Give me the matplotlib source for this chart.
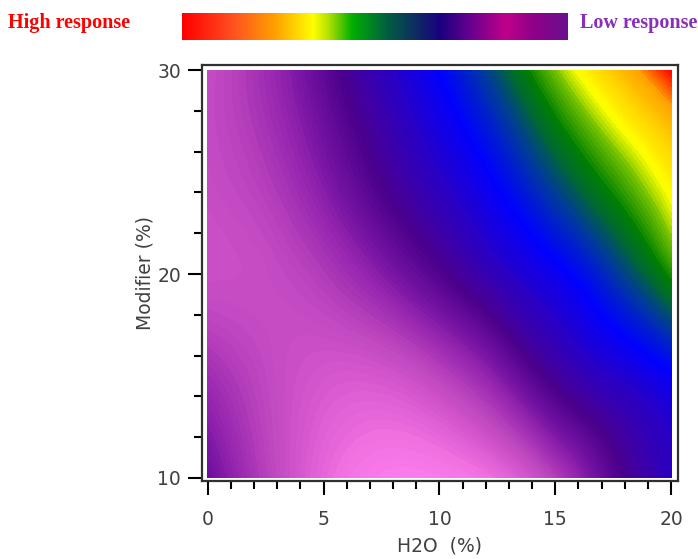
import numpy as np
import matplotlib
matplotlib.use("Agg")
import matplotlib.pyplot as plt
import matplotlib.tri as mtri
from matplotlib.colors import LinearSegmentedColormap
from matplotlib.ticker import MultipleLocator

# ---- data (relative response, 0 = low, 1 = high) ----
h2o = [0, 2.5, 5, 7.5, 10, 12.5, 15, 17.5, 20]          # H2O (%)
modifier = [10, 15, 20, 25, 30]                           # Modifier (%)
resp_y10 = [0.29, 0.17, 0.07, 0.02, 0.02, 0.06, 0.17, 0.32, 0.42]
resp_y15 = [0.21, 0.15, 0.11, 0.11, 0.16, 0.25, 0.36, 0.43, 0.49]
resp_y20 = [0.13, 0.14, 0.18, 0.25, 0.33, 0.41, 0.48, 0.57, 0.69]
resp_y25 = [0.14, 0.18, 0.26, 0.35, 0.43, 0.51, 0.61, 0.71, 0.82]
resp_y30 = [0.14, 0.21, 0.31, 0.41, 0.50, 0.61, 0.74, 0.87, 1.00]

x_ticks = [0, 5, 10, 15, 20]
y_ticks = [10, 20, 30]

# surface colour scale (value -> colour)
surf_stops = [0.00, 0.05, 0.10, 0.15, 0.22, 0.28, 0.34, 0.42, 0.50,
              0.58, 0.64, 0.68, 0.74, 0.79, 0.86, 0.93, 1.00]
surf_colors = ["#ff80f0", "#f070e0", "#d858d0", "#c048c0", "#9a28b0",
               "#7010a0", "#4c008c", "#2c00c0", "#0000ff", "#0038a0",
               "#006a30", "#008000", "#70c000", "#ffff00", "#ffd000",
               "#ffa000", "#ff0000"]

# legend bar colour scale (left = high, right = low)
bar_stops = [0.00, 0.13, 0.24, 0.34, 0.38, 0.44, 0.53, 0.67, 0.75, 0.84, 0.91, 1.00]
bar_colors = ["#ff0000", "#ff5020", "#ffa000", "#ffff00", "#b0e000", "#00b000",
              "#006040", "#1a0080", "#6a0090", "#c0008a", "#900088", "#6a1090"]

# ---- figure ----
fig = plt.figure(figsize=(6.98, 5.59), dpi=100)
fig.patch.set_facecolor("white")

ax = fig.add_axes([0.2894, 0.1395, 0.6819, 0.7442])

surf_cmap = LinearSegmentedColormap.from_list("surf", list(zip(surf_stops, surf_colors)))
surf_cmap.set_under(surf_colors[0])
surf_cmap.set_over(surf_colors[-1])
Z = np.array([resp_y10, resp_y15, resp_y20, resp_y25, resp_y30])
X, Y = np.meshgrid(h2o, modifier)
triang = mtri.Triangulation(X.ravel(), Y.ravel())
interp = mtri.CubicTriInterpolator(triang, Z.ravel(), kind="min_E")
refiner = mtri.UniformTriRefiner(triang)
tri_fine, z_fine = refiner.refine_field(Z.ravel(), triinterpolator=interp, subdiv=5)
levels = np.linspace(0, 1, 121)
ax.tricontourf(tri_fine, z_fine, levels=levels, cmap=surf_cmap, extend="both",
               antialiased=False)

ax.set_xlim(-0.25, 20.3)
ax.set_ylim(9.85, 30.25)

tick_font = dict(family="DejaVu Sans", size=13.5, color="#404040")
ax.set_xticks(x_ticks)
ax.set_yticks(y_ticks)
ax.set_xticklabels([str(t) for t in x_ticks], **tick_font)
ax.set_yticklabels([str(t) for t in y_ticks], **tick_font)
ax.xaxis.set_minor_locator(MultipleLocator(1))
ax.yaxis.set_minor_locator(MultipleLocator(2))
ax.tick_params(which="major", direction="out", length=10, width=1.5, color="black")
ax.tick_params(which="minor", direction="out", length=6, width=1.5, color="black")
ax.tick_params(axis="x", which="major", pad=11)
ax.tick_params(axis="y", which="major", pad=5)

for s in ax.spines.values():
    s.set_color("#303030")
    s.set_linewidth(1.6)

ax.set_xlabel("H2O  (%)", family="DejaVu Sans", size=13.5, color="#404040", labelpad=5)
ax.set_ylabel("Modifier (%)", family="DejaVu Sans", size=13.5, color="#404040", labelpad=2)

# ---- legend bar on top ----
cax = fig.add_axes([0.2607, 0.9284, 0.5516, 0.0483])
bar_cmap = LinearSegmentedColormap.from_list("bar", list(zip(bar_stops, bar_colors)))
cax.imshow(np.linspace(0, 1, 512)[None, :], cmap=bar_cmap, aspect="auto",
           extent=[0, 1, 0, 1])
cax.set_xticks([])
cax.set_yticks([])
for s in cax.spines.values():
    s.set_visible(False)

fig.text(0.0115, 0.9589, "High response", family="Liberation Serif", weight="bold",
         size=14.5, color="#ff0000", ha="left", va="center")
fig.text(0.831, 0.9589, "Low response", family="Liberation Serif", weight="bold",
         size=14.5, color="#8a30b8", ha="left", va="center")

fig.savefig("out.png", dpi=100, facecolor="white")
